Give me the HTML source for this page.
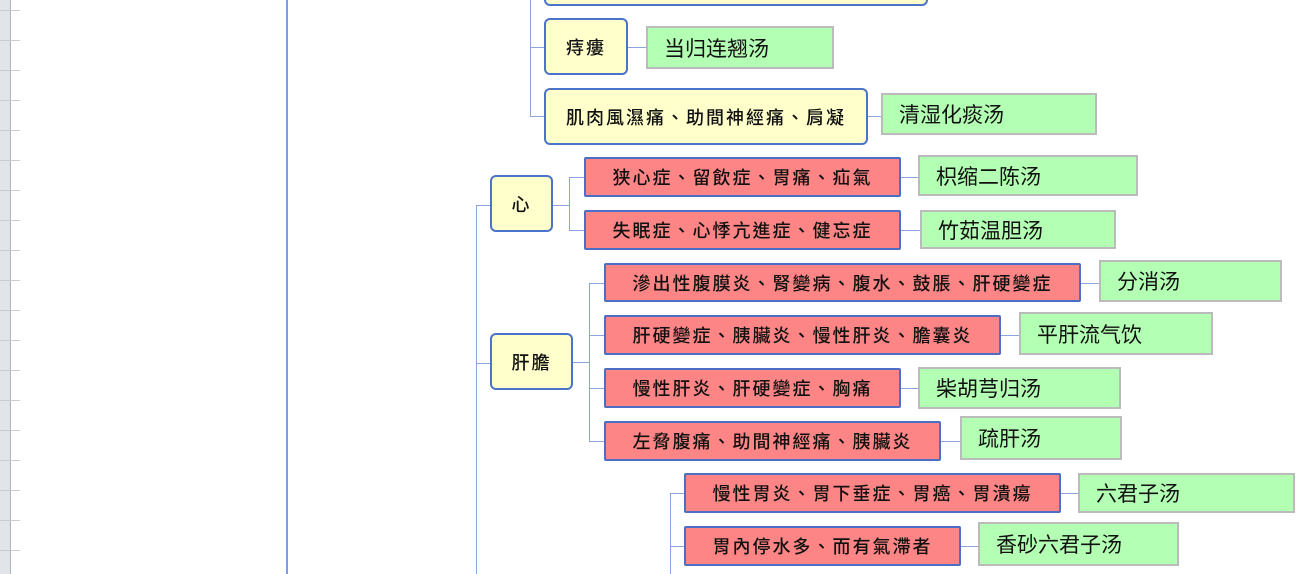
<!DOCTYPE html>
<html><head><meta charset="utf-8"><style>
body{margin:0;width:1316px;height:574px;overflow:hidden;background:#fff;position:relative;font-family:"Liberation Sans","Noto Sans CJK TC",sans-serif}
div{position:absolute;box-sizing:border-box}
.y{background:#ffffcc;border:2px solid #4a74c9;border-radius:6px;display:flex;align-items:center;justify-content:center;font-size:18px;letter-spacing:2px;font-weight:500;color:#111;white-space:nowrap}
.r{background:#fd8585;border:2px solid #4a6fc4;border-radius:2px;display:flex;align-items:center;justify-content:center;font-size:18px;letter-spacing:2px;font-weight:500;color:#111;white-space:nowrap}
.g{background:#b3ffb3;border:2px solid #bbb;display:flex;align-items:center;padding-left:16px;font-size:21px;color:#111;font-family:"Liberation Sans","Noto Sans CJK SC",sans-serif;font-weight:normal;white-space:nowrap}
.v{width:1px;background:#8aa6dc}
.h{height:1px;background:#8aa6dc}
.t{left:0;width:20px;height:1px;background:#ccc}
</style></head><body>
<div style="left:0;top:0;width:11px;height:574px;background:#e1e4e8;border-right:1px solid #b0b3b8"></div>
<div class="t" style="top:10px"></div><div class="t" style="top:40px"></div><div class="t" style="top:70px"></div><div class="t" style="top:100px"></div><div class="t" style="top:130px"></div><div class="t" style="top:160px"></div><div class="t" style="top:190px"></div><div class="t" style="top:220px"></div><div class="t" style="top:250px"></div><div class="t" style="top:280px"></div><div class="t" style="top:310px"></div><div class="t" style="top:340px"></div><div class="t" style="top:370px"></div><div class="t" style="top:400px"></div><div class="t" style="top:430px"></div><div class="t" style="top:460px"></div><div class="t" style="top:490px"></div><div class="t" style="top:520px"></div><div class="t" style="top:550px"></div>
<div style="left:286px;top:0;width:2px;height:574px;background:#7a9fe0"></div>

<div class="v" style="left:530px;top:0;height:116px"></div>
<div class="h" style="left:530px;top:47px;width:14px"></div>
<div class="h" style="left:530px;top:116px;width:14px"></div>
<div class="h" style="left:628px;top:47px;width:18px"></div>
<div class="h" style="left:868px;top:116px;width:13px"></div>
<div class="v" style="left:476px;top:205px;height:369px"></div>
<div class="h" style="left:476px;top:205px;width:14px"></div>
<div class="h" style="left:476px;top:363px;width:14px"></div>
<div class="h" style="left:553px;top:205px;width:16px"></div>
<div class="v" style="left:569px;top:177px;height:53px"></div>
<div class="h" style="left:569px;top:177px;width:15px"></div>
<div class="h" style="left:569px;top:230px;width:15px"></div>
<div class="h" style="left:573px;top:362px;width:16px"></div>
<div class="v" style="left:589px;top:283px;height:158px"></div>
<div class="h" style="left:589px;top:283px;width:15px"></div>
<div class="h" style="left:589px;top:335px;width:15px"></div>
<div class="h" style="left:589px;top:388px;width:15px"></div>
<div class="h" style="left:589px;top:441px;width:15px"></div>
<div class="v" style="left:670px;top:493px;height:81px"></div>
<div class="h" style="left:670px;top:493px;width:14px"></div>
<div class="h" style="left:670px;top:546px;width:14px"></div>
<div class="h" style="left:901px;top:177px;width:17px"></div>
<div class="h" style="left:901px;top:230px;width:19px"></div>
<div class="h" style="left:1081px;top:283px;width:18px"></div>
<div class="h" style="left:1001px;top:335px;width:18px"></div>
<div class="h" style="left:901px;top:388px;width:17px"></div>
<div class="h" style="left:941px;top:441px;width:19px"></div>
<div class="h" style="left:1061px;top:493px;width:17px"></div>
<div class="h" style="left:961px;top:546px;width:17px"></div>

<div class="y" style="left:544px;top:-20px;width:384px;height:26px"></div>
<div class="y" style="left:544px;top:18px;width:84px;height:57px">痔瘻</div>
<div class="y" style="left:544px;top:88px;width:324px;height:57px">肌肉風濕痛、助間神經痛、肩凝</div>
<div class="y" style="left:490px;top:175px;width:63px;height:57px">心</div>
<div class="y" style="left:490px;top:333px;width:83px;height:57px">肝膽</div>

<div class="r" style="left:584px;top:157px;width:317px;height:40px">狭心症、留飲症、胃痛、疝氣</div>
<div class="r" style="left:584px;top:210px;width:317px;height:40px">失眠症、心悸亢進症、健忘症</div>
<div class="r" style="left:604px;top:263px;width:477px;height:39px">滲出性腹膜炎、腎變病、腹水、鼓脹、肝硬變症</div>
<div class="r" style="left:604px;top:315px;width:397px;height:40px">肝硬變症、胰臟炎、慢性肝炎、膽囊炎</div>
<div class="r" style="left:604px;top:368px;width:297px;height:40px">慢性肝炎、肝硬變症、胸痛</div>
<div class="r" style="left:604px;top:421px;width:337px;height:40px">左脅腹痛、助間神經痛、胰臟炎</div>
<div class="r" style="left:684px;top:473px;width:377px;height:40px">慢性胃炎、胃下垂症、胃癌、胃潰瘍</div>
<div class="r" style="left:684px;top:526px;width:277px;height:40px">胃內停水多、而有氣滯者</div>

<div class="g" style="left:646px;top:26px;width:188px;height:43px">当归连翘汤</div>
<div class="g" style="left:881px;top:93px;width:216px;height:42px">清湿化痰汤</div>
<div class="g" style="left:918px;top:155px;width:220px;height:41px">枳缩二陈汤</div>
<div class="g" style="left:920px;top:210px;width:196px;height:39px">竹茹温胆汤</div>
<div class="g" style="left:1099px;top:260px;width:183px;height:42px">分消汤</div>
<div class="g" style="left:1019px;top:312px;width:194px;height:43px">平肝流气饮</div>
<div class="g" style="left:918px;top:367px;width:203px;height:42px">柴胡芎归汤</div>
<div class="g" style="left:960px;top:416px;width:162px;height:44px">疏肝汤</div>
<div class="g" style="left:1078px;top:473px;width:217px;height:40px">六君子汤</div>
<div class="g" style="left:978px;top:522px;width:201px;height:44px">香砂六君子汤</div>
</body></html>
